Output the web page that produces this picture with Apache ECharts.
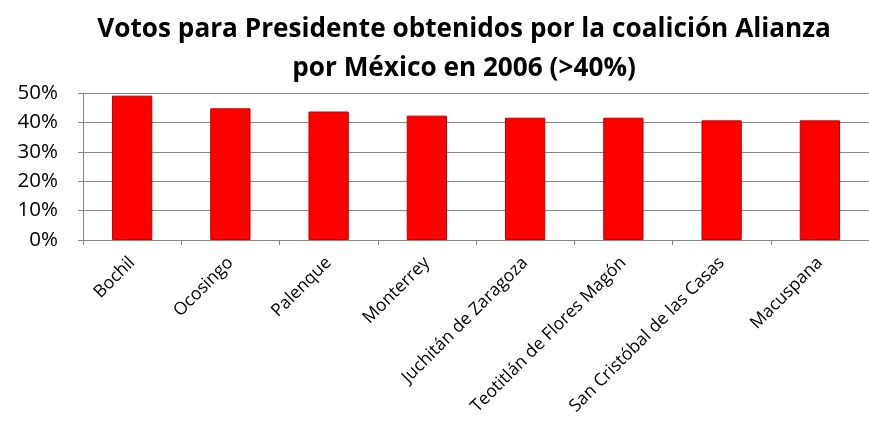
<!DOCTYPE html>
<html>
<head>
<meta charset="utf-8">
<script src="https://cdn.jsdelivr.net/npm/echarts@6/dist/echarts.min.js"></script>
<style>
  html, body { margin: 0; padding: 0; background: #fff; }
  #chart { width: 869px; height: 423px; }
</style>
</head>
<body>
<div id="chart"></div>
<script>
// municipios y % de votos
const municipios = ['Bochil', 'Ocosingo', 'Palenque', 'Monterrey', 'Juchitán de Zaragoza',
  'Teotitlán de Flores Magón', 'San Cristóbal de las Casas', 'Macuspana'];
const votos = [49.1, 44.8, 43.7, 42.3, 41.6, 41.6, 40.7, 40.7];
const ticksY = [0, 10, 20, 30, 40, 50];

const myChart = echarts.init(document.getElementById('chart'));
const option = {
  animation: false,
  title: {
    text: 'Votos para Presidente obtenidos por la coalición Alianza\npor México en 2006 (>40%)',
    left: 459,
    textAlign: 'center',
    top: 5,
    textStyle: {
      fontFamily: 'Open Sans',
      fontWeight: 'bold',
      fontSize: 26.2,
      lineHeight: 39,
      color: '#000'
    }
  },
  grid: {
    left: 83,
    right: -9,
    top: 93,
    bottom: 183
  },
  xAxis: {
    type: 'category',
    data: municipios,
    axisLine: { lineStyle: { color: '#868686', width: 1 } },
    axisTick: { show: true, length: 5, lineStyle: { color: '#868686' } },
    axisLabel: {
      rotate: 45,
      interval: 0,
      margin: 20,
      fontFamily: 'Open Sans',
      fontSize: 17.5,
      color: '#000'
    }
  },
  yAxis: {
    type: 'value',
    min: 0,
    max: ticksY[ticksY.length - 1],
    interval: 10,
    axisLine: { show: true, lineStyle: { color: '#868686' } },
    axisTick: { show: true, length: 5, lineStyle: { color: '#868686' } },
    splitLine: { lineStyle: { color: '#868686', width: 1 } },
    axisLabel: {
      formatter: '{value}%',
      fontFamily: 'Open Sans',
      fontSize: 20.5,
      color: '#000',
      margin: 25
    }
  },
  series: [{
    type: 'bar',
    data: votos,
    barWidth: '41%',
    itemStyle: {
      color: '#ff0000',
      borderColor: '#c00000',
      borderWidth: 1
    }
  }]
};
myChart.setOption(option);
</script>
</body>
</html>
